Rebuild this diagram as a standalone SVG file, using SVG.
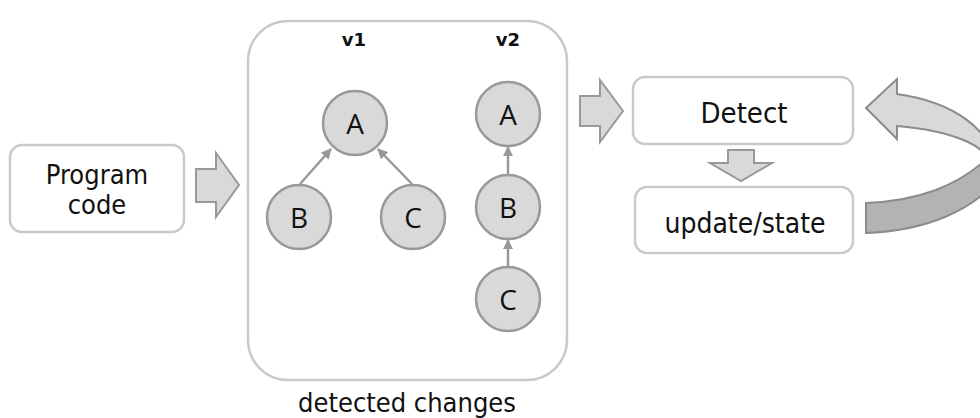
<svg xmlns="http://www.w3.org/2000/svg" width="980" height="418" viewBox="0 0 980 418">
<defs>
<style>
.box{fill:#fff;stroke:#c9c9c9;stroke-width:2.5}
.lbl{font-family:"DejaVu Sans Condensed","DejaVu Sans",sans-serif;font-size:28px;fill:#111;text-anchor:middle}
.ver{font-family:"DejaVu Sans","Liberation Sans",sans-serif;font-weight:bold;font-size:18px;fill:#111;text-anchor:middle}
.nd{fill:#d9d9d9;stroke:#999;stroke-width:2.5}
.nt{font-family:"Open Sans","Noto Sans",sans-serif;font-size:28px;fill:#111;text-anchor:middle}
.edge{stroke:#999;stroke-width:2.5;fill:none;marker-end:url(#ah)}
.blk{fill:#d9d9d9;stroke:#999;stroke-width:2;stroke-linejoin:miter}
</style>
<marker id="ah" viewBox="0 0 10 10" refX="9" refY="5" markerWidth="4.2" markerHeight="4.2" orient="auto" markerUnits="strokeWidth">
<path d="M0,0 L10,5 L0,10 Z" fill="#999"/>
</marker>
</defs>
<rect width="980" height="418" fill="#fff"/>

<g id="program">
<rect class="box" x="10" y="145" width="174" height="87" rx="12"/>
<text class="lbl" x="97" y="184" style="font-size:27px">Program</text>
<text class="lbl" x="97" y="214" style="font-size:27px">code</text>
</g>

<g id="changes">
<rect class="box" x="248" y="21" width="319" height="359" rx="40"/>
<text class="ver" x="354" y="46">v1</text>
<text class="ver" x="508" y="46">v2</text>
<text class="lbl" x="407" y="412" style="font-size:27px">detected changes</text>
</g>

<g id="v1A"><circle class="nd" cx="355" cy="123" r="32"/><text class="nt" x="355" y="134">A</text></g>
<g id="v1B"><circle class="nd" cx="299" cy="217" r="32"/><text class="nt" x="299" y="228">B</text></g>
<g id="v1C"><circle class="nd" cx="413" cy="217" r="32"/><text class="nt" x="413" y="228">C</text></g>
<g id="v2A"><circle class="nd" cx="508" cy="114" r="32"/><text class="nt" x="508" y="125">A</text></g>
<g id="v2B"><circle class="nd" cx="508" cy="207" r="32"/><text class="nt" x="508" y="218">B</text></g>
<g id="v2C"><circle class="nd" cx="508" cy="299" r="32"/><text class="nt" x="508" y="310">C</text></g>

<g id="detect">
<rect class="box" x="633" y="77" width="220" height="67" rx="12"/>
<text class="lbl" x="744" y="123" style="font-size:29px">Detect</text>
</g>

<g id="update">
<rect class="box" x="635" y="187" width="218" height="66" rx="12"/>
<text class="lbl" x="745" y="233">update/state</text>
</g>

<g id="connectors">
<line class="edge" x1="300" y1="184" x2="331" y2="149"/>
<line class="edge" x1="412" y1="184" x2="378" y2="149"/>
<line class="edge" x1="508" y1="175" x2="508" y2="147"/>
<line class="edge" x1="508" y1="267" x2="508" y2="240"/>
<path class="blk" d="M196,169 L216,169 L216,153 L239,185 L216,217 L216,202 L196,202 Z"/>
<path class="blk" d="M580,96 L600,96 L600,80 L623,111 L600,142 L600,126 L580,126 Z"/>
<path class="blk" d="M728,150 L754,150 L754,163 L772,163 L741,181 L710,163 L728,163 Z"/>
<path d="M866,203 C915,201 960,188 996,150 L998,178 C975,210 925,231 866,233 Z" fill="#b3b3b3" stroke="#8c8c8c" stroke-width="2"/>
<path d="M866,108 L897,79 L897,94 A126,70 0 0 1 992,163 L988,164 A122,38.5 0 0 0 897,126 L897,139 Z" fill="#d9d9d9" stroke="#8c8c8c" stroke-width="2" stroke-linejoin="miter"/>
</g>
</svg>
